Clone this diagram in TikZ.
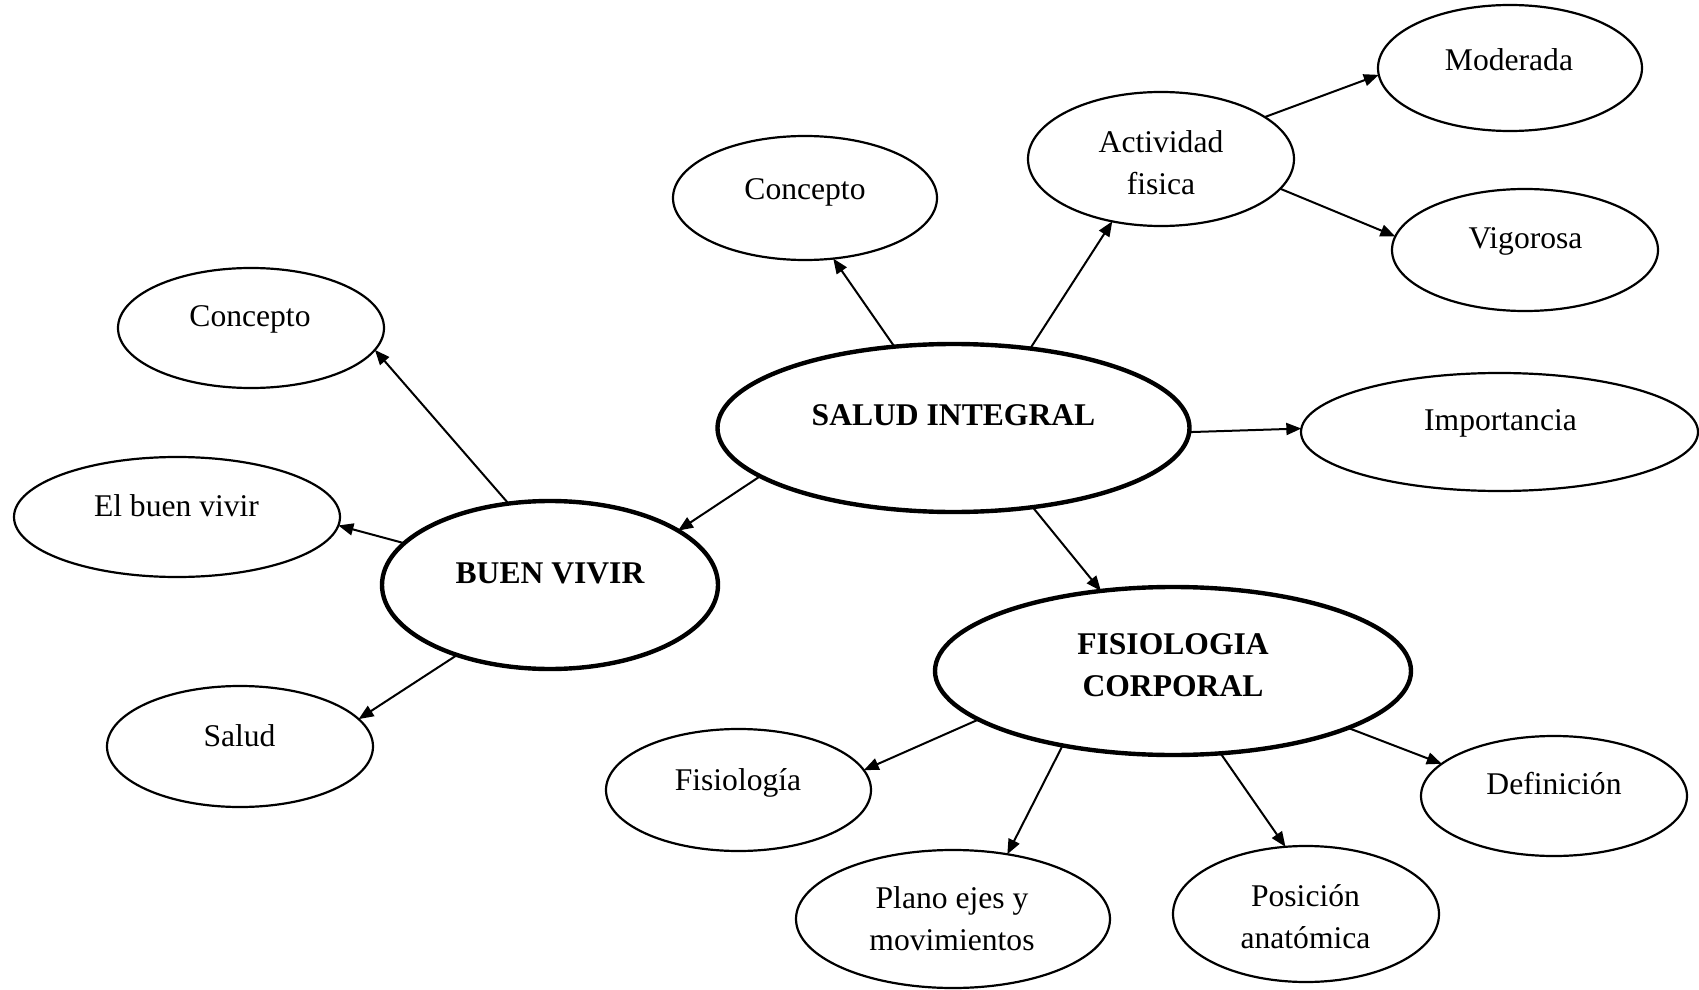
\documentclass[tikz,border=0pt]{standalone}
\usepackage{fontspec}
\setmainfont{Liberation Serif}
\usetikzlibrary{shapes.geometric,arrows.meta}

\begin{document}
\begin{tikzpicture}[x=0.5pt,y=-0.5pt,
  bubble/.style n args={2}{draw, ellipse, line width=1.1pt, inner sep=0pt,
    outer sep=0pt, minimum width=#1pt, minimum height=#2pt},
  hub/.style n args={2}{bubble={#1}{#2}, line width=2.2pt},
  txt/.style={inner sep=0pt, align=center, font=\fontsize{15.8}{21}\selectfont},
  oneline/.style={txt, text height=0.62em, text depth=0pt},
  btxt/.style={txt, font=\fontsize{15.8}{21}\selectfont\bfseries},
  bone/.style={btxt, text height=0.62em, text depth=0pt},
  link/.style={line width=1pt, -{Triangle[length=7.5pt,width=6pt]}}]

\useasboundingbox (0,0) rectangle (1699,990);

% main hubs
\node[hub={236}{84}] (sal) at (953.5,428) {};
\node[bone] (salT) at (953.5,419) {SALUD INTEGRAL};
\node[hub={168}{84}] (buen) at (550,585) {};
\node[bone] (buenT) at (550,577.5) {BUEN VIVIR};
\node[hub={238}{84}] (fis) at (1173,671) {};
\node[btxt] (fisT) at (1173,665.5) {FISIOLOGIA\\CORPORAL};

% branches of SALUD INTEGRAL
\node[bubble={132}{62}] (conA) at (805,198) {};
\node[oneline] (conAT) at (805,193) {Concepto};
\node[bubble={133}{67}] (act) at (1161,159) {};
\node[txt] (actT) at (1161,163) {Actividad\\fisica};
\node[bubble={132}{63}] (mod) at (1510,68) {};
\node[oneline] (modT) at (1509,64) {Moderada};
\node[bubble={133}{61}] (vig) at (1525,250) {};
\node[oneline] (vigT) at (1525.5,242.5) {Vigorosa};
\node[bubble={198.5}{59}] (imp) at (1499.5,432) {};
\node[oneline] (impT) at (1500.5,424.5) {Importancia};

% branches of BUEN VIVIR
\node[bubble={133}{60}] (conB) at (251,328) {};
\node[oneline] (conBT) at (250,320.5) {Concepto};
\node[bubble={163}{60}] (ebv) at (177,517) {};
\node[oneline] (ebvT) at (176.5,510.5) {El buen vivir};
\node[bubble={133}{60.5}] (sld) at (240,746.5) {};
\node[oneline] (sldT) at (239.5,740) {Salud};

% branches of FISIOLOGIA CORPORAL
\node[bubble={132.5}{61}] (fio) at (738.5,790) {};
\node[oneline] (fioT) at (738,784.5) {Fisiología};
\node[bubble={157}{69}] (pla) at (953,919) {};
\node[txt] (plaT) at (952,918.5) {Plano ejes y\\movimientos};
\node[bubble={133}{68}] (pos) at (1306,914) {};
\node[txt] (posT) at (1305.5,916.5) {Posición\\anatómica};
\node[bubble={133}{60}] (def) at (1554,796) {};
\node[oneline] (defT) at (1554,788.5) {Definición};

% connectors
\draw[link] (sal.126.2) -- (conA.295.3);
\draw[link] (sal.46.2) -- (act.232.5);
\draw[link] (sal.-1.6) -- (imp.179.4);
\draw[link] (sal.194) -- (buen.23.4);
\draw[link] (sal.-45.7) -- (fis.132.1);

\draw[link] (buen.117.2) -- (conB.-10.2);
\draw[link] (buen.164.3) -- (ebv.-3.4);
\draw[link] (buen.217.4) -- (sld.13.3);

\draw[link] (act.22) -- (mod.183.4);
\draw[link] (act.-14.8) -- (vig.174.1);

\draw[link] (fis.194.6) -- (fio.9.7);
\draw[link] (fis.214.6) -- (pla.50.1);
\draw[link] (fis.-60.6) -- (pos.107.7);
\draw[link] (fis.-18.5) -- (def.164.9);
\end{tikzpicture}
\end{document}
